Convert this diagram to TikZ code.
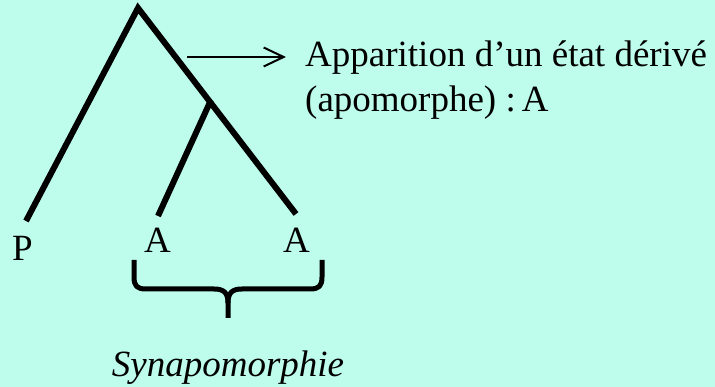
\documentclass[tikz,border=0pt]{standalone}
\usepackage{fontspec}
\setmainfont{Liberation Serif}
\usetikzlibrary{arrows.meta}
\definecolor{bgmint}{RGB}{190,253,235}
\tikzset{
  branch/.style={line width=6pt, line join=miter, line cap=butt},
  pointer/.style={line width=2pt, -{Straight Barb[length=20pt, width=19pt, line width=2pt]}},
  brace/.style={line width=5pt, line join=round},
  lbl/.style={inner sep=0pt, anchor=base, font=\fontsize{37}{44}\selectfont},
  txt/.style={inner sep=0pt, anchor=base west, font=\fontsize{37}{44}\selectfont}
}
\begin{document}
\begin{tikzpicture}[x=1pt, y=-1pt]
\fill[bgmint] (0,0) rectangle (715,387);
\useasboundingbox (0,0) rectangle (715,387);
% tree
\coordinate (root) at (138,8);
\coordinate (pend) at (26,221);
\coordinate (inner) at (211,100);
\coordinate (a1end) at (158,216);
\coordinate (a2end) at (296,214);
\draw[branch] (pend) -- (root) -- (a2end);
\draw[branch] (inner) -- (a1end);
% arrow
\coordinate (arrs) at (187,57);
\coordinate (arre) at (286,57);
\draw[pointer] (arrs) -- (arre);
% texts
\node[txt] (app1) at (305,67) {Apparition d’un état dérivé};
\node[txt] (app2) at (305,112) {(apomorphe) :\,A};
\node[lbl] (P) at (22.5,261) {P};
\node[lbl] (A1) at (157.5,253) {A};
\node[lbl] (A2) at (296.5,253) {A};
% brace
\coordinate (bl) at (134,260);
\coordinate (br) at (322,260);
\coordinate (btip) at (228,318);
\draw[brace] (bl) -- (134,277) .. controls (134,286) and (137,289) .. (146,289)
  -- (214,289) .. controls (224,289) and (228,293) .. (228,303) -- (btip);
\draw[brace] (br) -- (322,277) .. controls (322,286) and (319,289) .. (310,289)
  -- (242,289) .. controls (232,289) and (228,293) .. (228,303);
\node[lbl, font=\fontsize{37}{44}\selectfont\itshape] (syn) at (228,377) {Synapomorphie};
\end{tikzpicture}
\end{document}
